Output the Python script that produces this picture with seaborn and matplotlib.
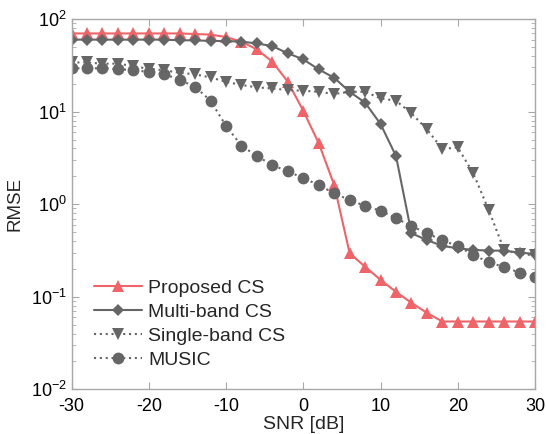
import numpy as np
import pandas as pd
import matplotlib
matplotlib.use("Agg")
import matplotlib.pyplot as plt
import seaborn as sns

# SNR grid (dB)
snr = list(range(-30, 31, 2))

# RMSE values
proposed = [70, 70, 70, 70, 70, 70, 70, 70, 69, 68, 64, 57, 47, 34.6, 21, 10.2,
            4.55, 1.61, 0.295, 0.211, 0.152, 0.113, 0.086, 0.067, 0.054, 0.054,
            0.054, 0.054, 0.054, 0.054, 0.054]
multiband = [60, 60, 60, 60, 60, 60, 60, 59, 59, 58, 58, 57, 54.6, 51, 42.7, 36.7,
             28.6, 23.2, 16.4, 12.5, 7.35, 3.31, 0.485, 0.41, 0.354, 0.334,
             0.32, 0.316, 0.314, 0.30, 0.29]
singleband = [34, 34, 33, 33, 31, 29, 28, 26.3, 25.3, 23.4, 21, 19.4, 18.3, 17.8,
              17.1, 16.8, 16.4, 15.5, 16.4, 16.4, 13.9, 13.1, 9.6, 6.44, 3.95,
              4.1, 2.16, 0.865, 0.32, 0.29, 0.28]
music = [29.4, 29.4, 29.4, 28.8, 28.1, 26.9, 25.5, 22, 18.6, 13.1, 7.0, 4.3, 3.3,
         2.65, 2.26, 1.92, 1.61, 1.31, 1.11, 0.957, 0.85, 0.705, 0.58, 0.485,
         0.41, 0.35, 0.285, 0.235, 0.21, 0.182, 0.162]

methods = ["Proposed CS", "Multi-band CS", "Single-band CS", "MUSIC"]

df = pd.DataFrame({
    "SNR": snr * 4,
    "RMSE": proposed + multiband + singleband + music,
    "Method": sum([[m] * len(snr) for m in methods], []),
})

red = "#ef6468"
gray = "#666666"

sns.set_style("ticks")
plt.rcParams["font.family"] = ["Liberation Sans", "DejaVu Sans"]
plt.rcParams["mathtext.default"] = "regular"
plt.rcParams["axes.unicode_minus"] = False

fig = plt.figure(figsize=(5.46, 4.34), dpi=100)
ax = fig.add_axes([0.131, 0.103, 0.849, 0.853])

sns.lineplot(data=df, x="SNR", y="RMSE", hue="Method", style="Method",
             palette={methods[0]: red, methods[1]: gray, methods[2]: gray, methods[3]: gray},
             markers={methods[0]: "^", methods[1]: "D", methods[2]: "v", methods[3]: "o"},
             dashes={methods[0]: "", methods[1]: "", methods[2]: (1, 1.8), methods[3]: (1, 1.8)},
             hue_order=methods, style_order=methods,
             linewidth=1.5, markersize=8, markeredgewidth=0,
             ax=ax)

# diamonds a bit smaller, circles a bit larger
for line in ax.lines:
    if line.get_marker() == "D":
        line.set_markersize(6.5)
    elif line.get_marker() == "o":
        line.set_markersize(8.5)

ax.set_yscale("log")
ax.set_xlim(-30, 30)
ax.set_ylim(1e-2, 1e2)
ax.set_xticks([-30, -20, -10, 0, 10, 20, 30])
ax.set_xlabel("SNR [dB]", fontsize=14, labelpad=1)
ax.set_ylabel("RMSE", fontsize=13.5, labelpad=5)

for s in ax.spines.values():
    s.set_color("#a8a8a8")
    s.set_linewidth(1.0)
ax.tick_params(which="both", direction="in", top=True, right=True,
               color="#a8a8a8", labelsize=13, labelcolor="black")
ax.tick_params(which="major", length=5)
ax.tick_params(which="minor", length=3)
ax.tick_params(axis="x", pad=6)

leg = ax.legend(loc="lower left", bbox_to_anchor=(0.031, 0.035), frameon=False,
                fontsize=14, handlelength=2.5, labelspacing=0.32,
                handletextpad=0.3, borderaxespad=0)
for h in leg.legend_handles:
    if h.get_marker() == "D":
        h.set_markersize(6.5)
    elif h.get_marker() == "o":
        h.set_markersize(8.5)

fig.savefig("out.png", dpi=100)
